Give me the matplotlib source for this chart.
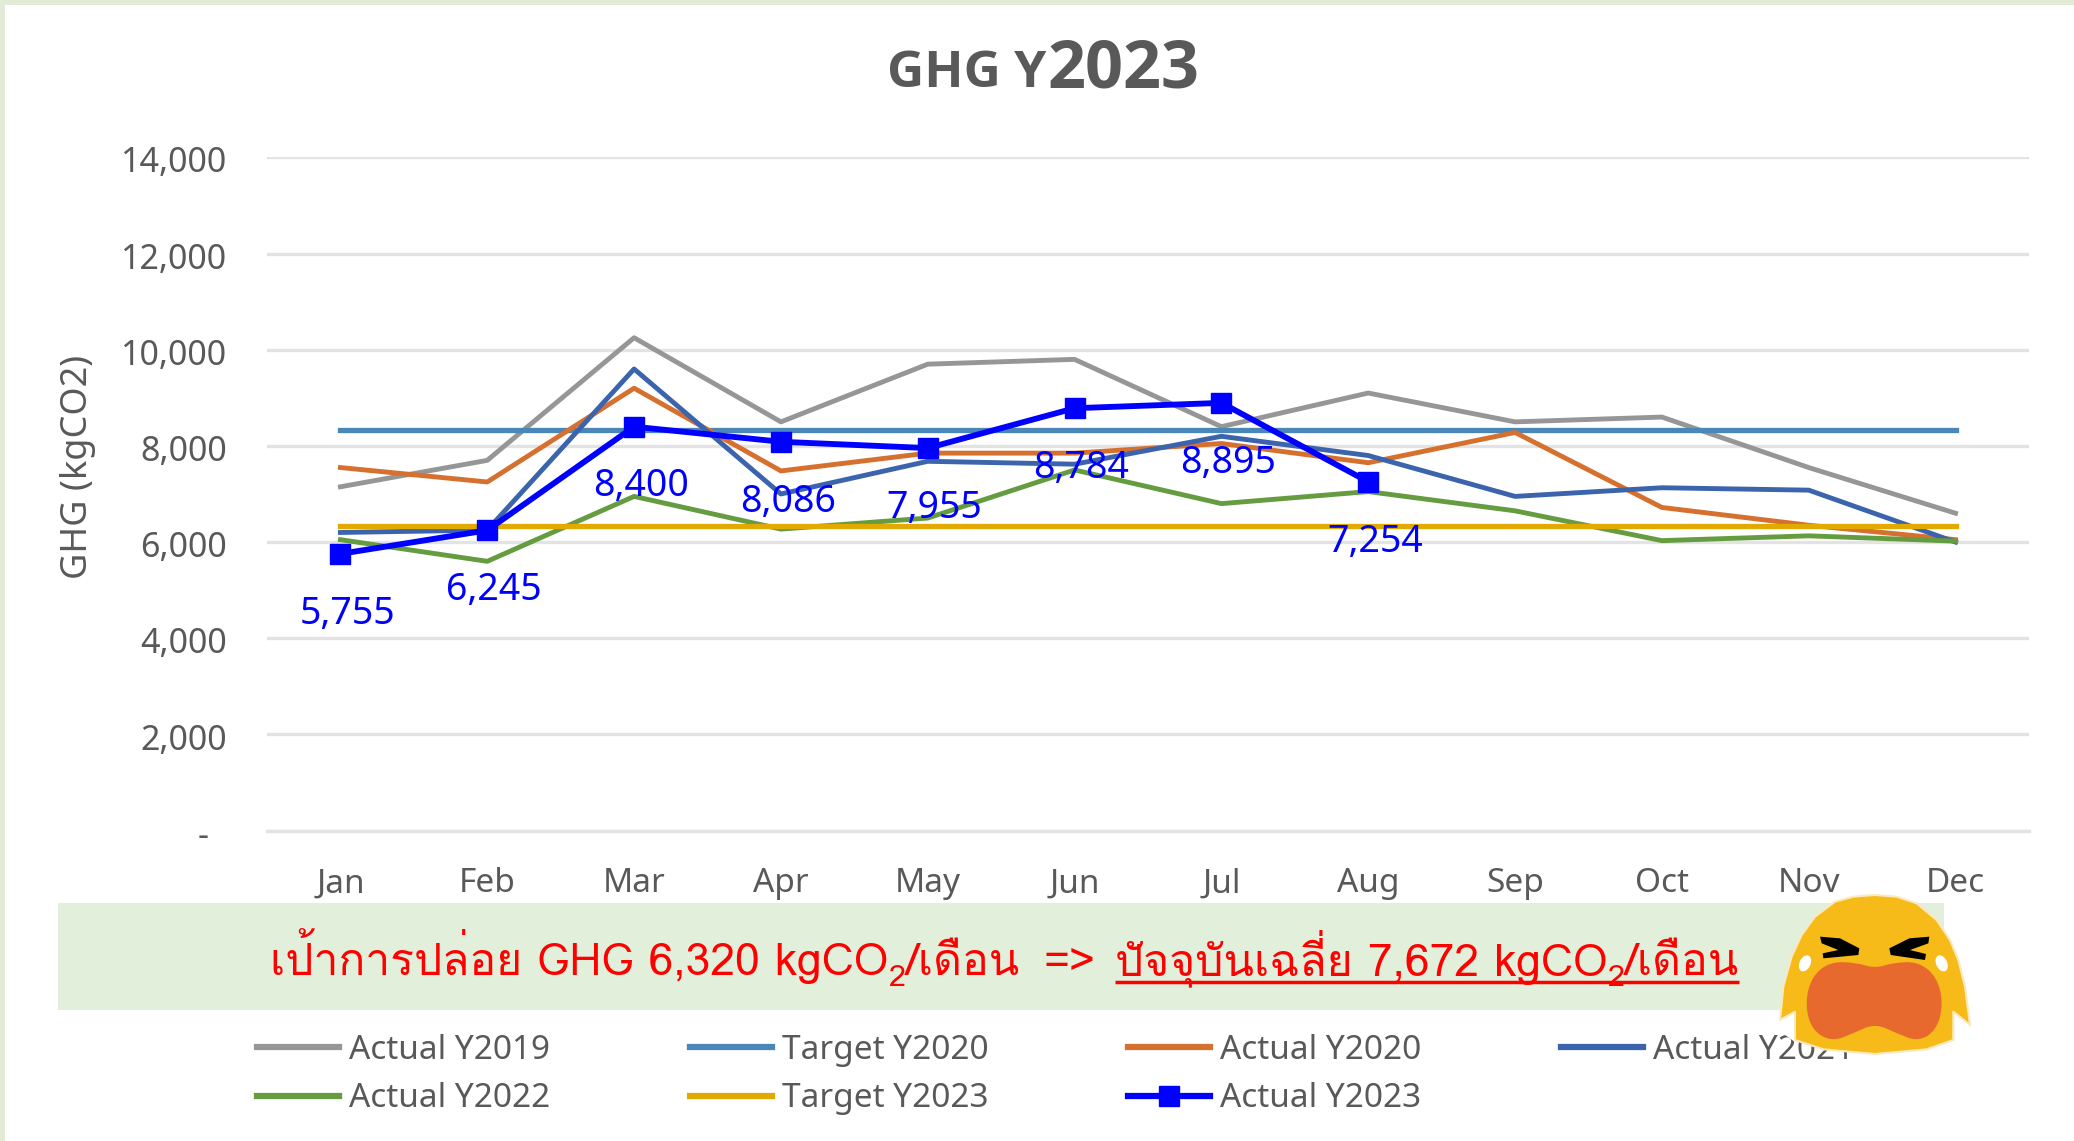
import matplotlib
matplotlib.use("Agg")
import matplotlib.pyplot as plt
import matplotlib.font_manager as fm
from matplotlib.patches import Rectangle, Polygon, Ellipse, PathPatch
from matplotlib.path import Path
from matplotlib.transforms import ScaledTranslation

months = ["Jan", "Feb", "Mar", "Apr", "May", "Jun", "Jul", "Aug", "Sep", "Oct", "Nov", "Dec"]
actual_2019 = [7150, 7700, 10250, 8500, 9700, 9800, 8400, 9100, 8500, 8600, 7550, 6600]
target_2020 = [8340] * 12
actual_2020 = [7550, 7250, 9200, 7480, 7850, 7850, 8050, 7650, 8280, 6720, 6350, 6050]
actual_2021 = [6200, 6250, 9600, 7000, 7680, 7620, 8200, 7800, 6950, 7130, 7080, 6000]
actual_2022 = [6050, 5600, 6950, 6270, 6500, 7500, 6800, 7050, 6650, 6030, 6130, 6020]
target_2023 = [6330] * 12
actual_2023 = [5755, 6245, 8400, 8086, 7955, 8784, 8895, 7254]
y_ticks = [0, 2000, 4000, 6000, 8000, 10000, 12000, 14000]

W, H = 2074, 1141
GREY = "#595959"


# Look for any installed font with Thai glyphs
def find_thai_font():
    for f in fm.fontManager.ttflist:
        try:
            if 0x0E40 in fm.get_font(f.fname).get_charmap():
                return f.name
        except Exception:
            pass
    return None


thai = find_thai_font()
plt.rcParams["font.family"] = ["Noto Sans", "DejaVu Sans"]
thai_family = [thai, "Noto Sans", "DejaVu Sans"] if thai else ["Noto Sans", "DejaVu Sans"]

fig = plt.figure(figsize=(W / 100, H / 100), dpi=100, facecolor="white")

# background layer in pixel coords
bg = fig.add_axes([0, 0, 1, 1], zorder=-1)
bg.set_xlim(0, W)
bg.set_ylim(H, 0)
bg.axis("off")
bg.add_patch(Rectangle((0, 0), W, 5, color="#E2EBD6", lw=0))
bg.add_patch(Rectangle((0, 0), 5, H, color="#E2EBD6", lw=0))
bg.add_patch(Rectangle((58, 903), 1886, 107, color="#E2EFDA", lw=0))

ax = fig.add_axes([267 / W, 1 - 830.6 / H, (2029 - 267) / W, (830.6 - 157.4) / H])
ax.patch.set_alpha(0)
ax.set_xlim(-0.5, 11.5)
ax.set_ylim(0, 14000)
ax.yaxis.grid(True, color="#E3E3E3", lw=2.4)
ax.set_axisbelow(True)
for s in ["top", "left", "right"]:
    ax.spines[s].set_visible(False)
ax.spines["bottom"].set_color("#E3E3E3")
ax.spines["bottom"].set_linewidth(2.4)

ln = []
x = list(range(12))
ln.append(ax.plot(x, actual_2019, color="#969696", lw=3.5, label="Actual Y2019")[0])
ln.append(ax.plot(x, target_2020, color="#4A86B8", lw=3.8, label="Target Y2020")[0])
ln.append(ax.plot(x, actual_2020, color="#D6702E", lw=3.5, label="Actual Y2020")[0])
ln.append(ax.plot(x, actual_2021, color="#3B64AD", lw=3.5, label="Actual Y2021")[0])
ln.append(ax.plot(x, actual_2022, color="#659C3F", lw=3.5, label="Actual Y2022")[0])
ln.append(ax.plot(x, target_2023, color="#E2AA00", lw=3.8, label="Target Y2023")[0])
ln.append(ax.plot(x[:len(actual_2023)], actual_2023, color="#0000FF", lw=4.2, marker="s", ms=14,
                  label="Actual Y2023")[0])

for i, v in enumerate(actual_2023):
    ax.annotate(f"{v:,}", (i, v), xytext=(5, -43), textcoords="offset points", ha="center", va="center",
                color="#0000FF", fontsize=27)

ax.set_xticks(x)
ax.set_xticklabels(months)
ax.set_yticks(y_ticks)
ax.set_yticklabels([f"{v:,}" if v else "-  " for v in y_ticks])
ax.tick_params(axis="x", length=0, pad=26.5, labelsize=24, labelcolor=GREY)
ax.tick_params(axis="y", length=0, pad=29, labelsize=24.5, labelcolor=GREY)
for lab in ax.get_yticklabels():
    lab.set_transform(lab.get_transform() + ScaledTranslation(0, -1.5 / 72, fig.dpi_scale_trans))

bg.text(78, 467, "GHG (kgCO2)", rotation=90, ha="center", va="center", fontsize=26, color=GREY)

# title is two pieces, the year is bigger
bg.text(1046, 87, "GHG Y", ha="right", va="baseline", fontsize=37, fontweight="bold", color=GREY,
        family="Open Sans")
bg.text(1048, 87, "2023", ha="left", va="baseline", fontsize=48, fontweight="bold", color=GREY,
        family="Open Sans")

# legend, row-wise order
order = [0, 4, 1, 5, 2, 6, 3]
leg = fig.legend([ln[i] for i in order], [ln[i].get_label() for i in order], ncol=4, loc="upper left",
                 bbox_to_anchor=(257 / W, 1 - 1034 / H), frameon=False, fontsize=24, labelcolor=GREY,
                 borderpad=0, borderaxespad=0, handlelength=2.45, handletextpad=0.3, columnspacing=4.2,
                 labelspacing=0.46)
for h in leg.legend_handles:
    h.set_linewidth(4.5)

# banner text, pieces placed one after another, None keeps going from the last piece
fig.canvas.draw()
rend = fig.canvas.get_renderer()
pieces = [("เป้าการปล่อย GHG 6,320 kgCO", False, 270), ("2", True, None), ("/เดือน", False, None),
          ("=>", False, 1043), ("ปัจจุบันเฉลี่ย 7,672 kgCO", False, 1115), ("2", True, None), ("/เดือน", False, None)]
cx = 270
for t, sub, start in pieces:
    if start is not None:
        cx = start
    y = 975 if not sub else 986
    tx = bg.text(cx, y, t, ha="left", va="baseline", color="#FF0000", fontsize=22 if sub else 32,
                 family=thai_family)
    cx = tx.get_window_extent(rend).x1
bg.plot([1115, cx], [982, 982], color="#FF0000", lw=2.5, solid_capstyle="butt")
bg.set_xlim(0, W)
bg.set_ylim(H, 0)

# crying face on top of everything, coordinates from the 3x crop
em = fig.add_axes([0, 0, 1, 1], zorder=10)
em.set_xlim(0, W)
em.set_ylim(H, 0)
em.axis("off")


def pts(p):
    return [(a / 3 + 1740, b / 3 + 870) for a, b in p]


# closed smooth outline through the midpoints of the given points
def smooth(p):
    p = pts(p)
    mids = [((p[i][0] + p[(i + 1) % len(p)][0]) / 2, (p[i][1] + p[(i + 1) % len(p)][1]) / 2) for i in range(len(p))]
    verts = [mids[-1]]
    codes = [Path.MOVETO]
    for i in range(len(p)):
        verts += [p[i], mids[i]]
        codes += [Path.CURVE3, Path.CURVE3]
    return Path(verts, codes)


em.add_patch(Polygon(pts([(115, 420), (170, 420), (170, 520), (115, 480)]), color="white", lw=0))
em.add_patch(Polygon(pts([(640, 420), (695, 420), (695, 480), (640, 520)]), color="white", lw=0))
head = [(405, 75), (470, 80), (530, 100), (590, 150), (630, 210), (655, 270), (675, 350), (690, 465), (640, 425),
        (640, 510), (560, 538), (405, 552), (250, 538), (165, 510), (165, 425), (120, 450), (130, 350),
        (155, 260), (185, 195), (225, 140), (285, 95), (340, 80)]
em.add_patch(Polygon(pts(head), closed=True, fc="#F6BB18", ec="#FBE9BE", lw=1.5, joinstyle="round"))
mouth = [(195, 400), (215, 320), (270, 275), (350, 278), (405, 295), (460, 278), (535, 275), (590, 320),
         (610, 400), (590, 480), (535, 515), (470, 490), (405, 460), (340, 490), (275, 515), (215, 480)]
em.add_patch(PathPatch(smooth(mouth), fc="#E8692D", lw=0))
eye_l = [(240, 200), (300, 205), (358, 235), (355, 255), (250, 265), (248, 250), (295, 240), (245, 220)]
eye_r = [(568, 200), (508, 205), (448, 235), (452, 255), (555, 270), (558, 252), (510, 240), (565, 220)]
em.add_patch(Polygon(pts(eye_l), closed=True, fc="black", lw=0))
em.add_patch(Polygon(pts(eye_r), closed=True, fc="black", lw=0))
em.add_patch(Ellipse((195 / 3 + 1740, 280 / 3 + 870), 11, 17, angle=25, color="white", lw=0))
em.add_patch(Ellipse((605 / 3 + 1740, 280 / 3 + 870), 11, 17, angle=-25, color="white", lw=0))

fig.savefig("out.png", dpi=100, facecolor="white")
